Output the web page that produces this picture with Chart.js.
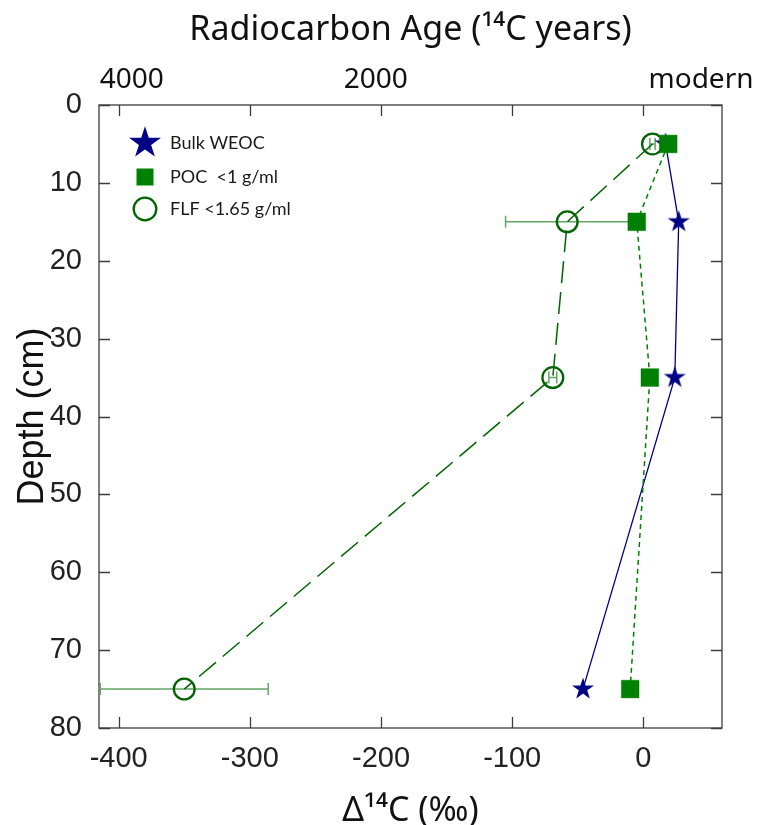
<!DOCTYPE html>
<html>
<head>
<meta charset="utf-8">
<script src="https://cdn.jsdelivr.net/npm/chart.js@4.4.1/dist/chart.umd.min.js"></script>
<style>
html, body { margin: 0; padding: 0; background: #fff; }
#wrap { width: 760px; height: 825px; }
</style>
</head>
<body>
<div id="wrap"><canvas id="chart" width="760" height="825"></canvas></div>
<script>
// -----------------------------
// DATA
// -----------------------------
const depths = [5, 15, 35, 75];
const bulkWeoc = [17, 27, 24, -46];
const pocLight = [19, -5, 5, -10];
const flfLight = [7, -58, -69, -350];
const flfErr = [2, 47, 3, 64];

const xTicks = [-400, -300, -200, -100, 0];
const yTicks = [0, 10, 20, 30, 40, 50, 60, 70, 80];
const ageTicks = [-390, -204, 44];
const ageLabels = ["4000", "2000", "modern"];

const seriesNames = ["Bulk WEOC", "POC  <1 g/ml", "FLF <1.65 g/ml"];

// -----------------------------
// STYLE
// -----------------------------
const navy = "#000086";
const green = "#008000";
const darkGreen = "#006400";
const errGreen = "#62a562";
const tickFont = "'Liberation Sans', Arial, sans-serif";
const labelFont = "'Noto Sans', Lato, sans-serif";
const legendFont = "Lato, 'Noto Sans', sans-serif";

function starPath(ctx, cx, cy, r) {
    const inner = r * 0.382;
    ctx.beginPath();
    for (let i = 0; i < 10; i++) {
        const rad = (i % 2 === 0) ? r : inner;
        const a = -Math.PI / 2 + i * Math.PI / 5;
        const px = cx + rad * Math.cos(a);
        const py = cy + rad * Math.sin(a);
        if (i === 0) ctx.moveTo(px, py); else ctx.lineTo(px, py);
    }
    ctx.closePath();
}

function makeStar(r, color) {
    const c = document.createElement("canvas");
    c.width = Math.ceil(r * 2) + 2;
    c.height = Math.ceil(r * 2) + 2;
    const g = c.getContext("2d");
    starPath(g, c.width / 2, c.height / 2, r);
    g.fillStyle = color;
    g.fill();
    return c;
}

const starImg = makeStar(11.6, navy);

function toPoints(xs) {
    return depths.map((d, i) => ({ x: xs[i], y: d }));
}

// -----------------------------
// FRAME, TICKS, ERROR BARS, LEGEND
// -----------------------------
const framePlugin = {
    id: "frame",
    beforeDatasetsDraw(chart) {
        const ctx = chart.ctx;
        const a = chart.chartArea;
        const xs = chart.scales.x;
        const ys = chart.scales.y;

        ctx.save();
        ctx.strokeStyle = "#3c3c3c";
        ctx.lineWidth = 1.3;
        ctx.strokeRect(a.left, a.top, a.right - a.left, a.bottom - a.top);

        ctx.beginPath();
        xTicks.forEach(v => {
            const px = Math.round(xs.getPixelForValue(v)) + 0.5;
            ctx.moveTo(px, a.bottom); ctx.lineTo(px, a.bottom - 11);
            ctx.moveTo(px, a.top); ctx.lineTo(px, a.top + 11);
        });
        yTicks.forEach(v => {
            const py = Math.round(ys.getPixelForValue(v)) + 0.5;
            ctx.moveTo(a.left, py); ctx.lineTo(a.left + 11, py);
            ctx.moveTo(a.right, py); ctx.lineTo(a.right - 11, py);
        });
        ctx.stroke();

        // FLF error bars
        ctx.strokeStyle = errGreen;
        ctx.lineWidth = 1.5;
        ctx.beginPath();
        depths.forEach((d, i) => {
            const py = ys.getPixelForValue(d);
            const x1 = xs.getPixelForValue(flfLight[i] - flfErr[i]);
            const x2 = xs.getPixelForValue(flfLight[i] + flfErr[i]);
            ctx.moveTo(x1, py); ctx.lineTo(x2, py);
            ctx.moveTo(x1, py - 6); ctx.lineTo(x1, py + 6);
            ctx.moveTo(x2, py - 6); ctx.lineTo(x2, py + 6);
        });
        ctx.stroke();
        ctx.restore();
    },
    afterDraw(chart) {
        const ctx = chart.ctx;
        const a = chart.chartArea;
        const mx = a.left + 46;
        const tx = a.left + 71;
        const rows = [a.top + 38, a.top + 72, a.top + 104];

        ctx.save();
        starPath(ctx, mx, rows[0], 16.8);
        ctx.fillStyle = navy;
        ctx.fill();

        ctx.fillStyle = green;
        ctx.fillRect(mx - 8.5, rows[1] - 8.5, 17, 17);

        ctx.beginPath();
        ctx.arc(mx, rows[2], 11.3, 0, Math.PI * 2);
        ctx.strokeStyle = darkGreen;
        ctx.lineWidth = 2.3;
        ctx.stroke();

        ctx.fillStyle = "#1a1a1a";
        ctx.font = "18px " + legendFont;
        ctx.textBaseline = "middle";
        ctx.textAlign = "left";
        seriesNames.forEach((n, i) => ctx.fillText(n, tx, rows[i]));
        ctx.restore();
    }
};

// -----------------------------
// CHART
// -----------------------------
window.onload = function () {

    const ctx = document.getElementById("chart").getContext("2d");

    new Chart(ctx, {
        type: "scatter",
        data: {
            datasets: [
                {
                    label: seriesNames[0],
                    data: toPoints(bulkWeoc),
                    showLine: true,
                    borderColor: navy,
                    borderWidth: 1.3,
                    pointStyle: starImg,
                    pointRadius: 11,
                    order: 2
                },
                {
                    label: seriesNames[1],
                    data: toPoints(pocLight),
                    showLine: true,
                    borderColor: green,
                    borderWidth: 1.5,
                    borderDash: [5, 4],
                    pointStyle: "rect",
                    pointRadius: 12.5,
                    pointBackgroundColor: green,
                    pointBorderColor: green,
                    pointBorderWidth: 0.5,
                    order: 1
                },
                {
                    label: seriesNames[2],
                    data: toPoints(flfLight),
                    showLine: true,
                    borderColor: darkGreen,
                    borderWidth: 1.5,
                    borderDash: [22, 9],
                    pointStyle: "circle",
                    pointRadius: 10.4,
                    pointBackgroundColor: "rgba(0,0,0,0)",
                    pointBorderColor: darkGreen,
                    pointBorderWidth: 2.3,
                    order: 3
                }
            ]
        },
        options: {
            responsive: false,
            animation: false,
            layout: { padding: { left: 0, right: 38, top: 0, bottom: 0 } },
            plugins: {
                legend: { display: false },
                tooltip: { enabled: false }
            },
            scales: {
                x: {
                    type: "linear",
                    position: "bottom",
                    min: -415,
                    max: 60,
                    grid: { display: false },
                    border: { display: false },
                    afterBuildTicks: s => { s.ticks = xTicks.map(v => ({ value: v })); },
                    afterFit: s => { s.height = 97; s.paddingLeft = 0; s.paddingRight = 0; },
                    ticks: {
                        padding: 6,
                        autoSkip: false,
                        maxRotation: 0,
                        color: "#222",
                        font: { family: tickFont, size: 29 }
                    },
                    title: {
                        display: true,
                        text: "Δ¹⁴C (‰)",
                        color: "#111",
                        font: { family: labelFont, size: 34, lineHeight: 1.2 },
                        padding: { top: 0, bottom: -7 }
                    }
                },
                x2: {
                    type: "linear",
                    position: "top",
                    min: -415,
                    max: 60,
                    grid: { display: false },
                    border: { display: false },
                    afterBuildTicks: s => { s.ticks = ageTicks.map(v => ({ value: v })); },
                    afterFit: s => { s.height = 105; s.paddingLeft = 0; s.paddingRight = 0; },
                    ticks: {
                        padding: 0,
                        autoSkip: false,
                        maxRotation: 0,
                        color: "#111",
                        font: { family: labelFont, size: 28 },
                        callback: v => ageLabels[ageTicks.indexOf(v)]
                    },
                    title: {
                        display: true,
                        text: "Radiocarbon Age (¹⁴C years)",
                        color: "#111",
                        font: { family: labelFont, size: 34, lineHeight: 1.2 },
                        padding: { top: 10, bottom: 0 }
                    }
                },
                y: {
                    type: "linear",
                    reverse: true,
                    min: 0,
                    max: 80,
                    grid: { display: false },
                    border: { display: false },
                    afterBuildTicks: s => { s.ticks = yTicks.map(v => ({ value: v })); },
                    afterFit: s => { s.width = 99; s.paddingTop = 0; s.paddingBottom = 0; },
                    ticks: {
                        padding: 9,
                        autoSkip: false,
                        color: "#222",
                        font: { family: tickFont, size: 29 }
                    },
                    title: {
                        display: true,
                        text: "Depth (cm)",
                        color: "#111",
                        font: { family: tickFont, size: 36, lineHeight: 1.2 },
                        padding: { top: 11, bottom: 0 }
                    }
                }
            }
        },
        plugins: [framePlugin]
    });
};
</script>
</body>
</html>
